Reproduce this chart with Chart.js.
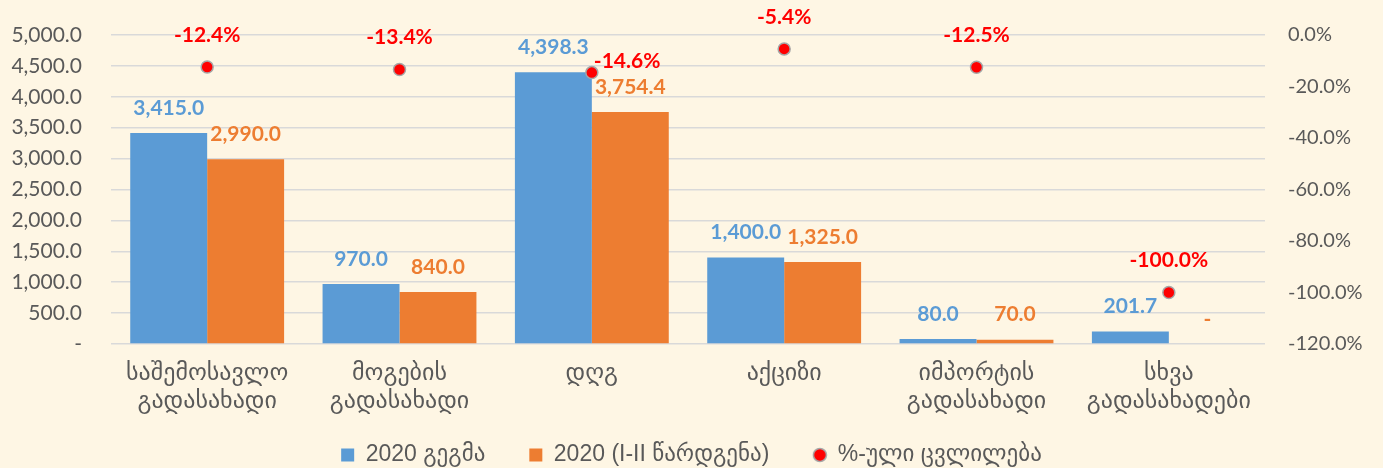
<!DOCTYPE html>
<html>
<head>
<meta charset="utf-8">
<script src="https://cdn.jsdelivr.net/npm/chart.js@4.4.1/dist/chart.umd.min.js"></script>
<style>
  html, body { margin: 0; padding: 0; background: #fef6e4; }
  #wrap { width: 1383px; height: 468px; }
</style>
</head>
<body>
<div id="wrap"><canvas id="chart" width="1383" height="468"></canvas></div>
<script>
const categories = [
  ["საშემოსავლო", "გადასახადი"],
  ["მოგების", "გადასახადი"],
  "დღგ",
  "აქციზი",
  ["იმპორტის", "გადასახადი"],
  ["სხვა", "გადასახადები"],
];
const plan2020 = [3415.0, 970.0, 4398.3, 1400.0, 80.0, 201.7];
const revised2020 = [2990.0, 840.0, 3754.4, 1325.0, 70.0, 0];
const pctChange = [-12.4, -13.4, -14.6, -5.4, -12.5, -100.0];
// where each % label sits relative to its dot
const pctLabelSide = ["top", "top", "right", "top", "top", "top"];

const FONT = "Lato, 'DejaVu Sans', sans-serif";
const GEO_FONT = "'DejaVu Sans', sans-serif";
const LEGEND_FONT = "'Liberation Sans', 'DejaVu Sans', sans-serif";
const GREY = "#595959";

function fmtNum(v) {
  if (v === 0) return "-";
  return v.toLocaleString("en-US", { minimumFractionDigits: 1, maximumFractionDigits: 1 });
}

// red dot used in the legend
const dot = document.createElement("canvas");
dot.width = dot.height = 16;
const dctx = dot.getContext("2d");
dctx.beginPath();
dctx.arc(8, 8, 6.5, 0, Math.PI * 2);
dctx.fillStyle = "#ff0000";
dctx.fill();
dctx.lineWidth = 1.5;
dctx.strokeStyle = "#a6a6a6";
dctx.stroke();

// draws the value labels over bars and points
const valueLabels = {
  id: "valueLabels",
  afterDatasetsDraw(chart) {
    const ctx = chart.ctx;
    ctx.save();
    ctx.font = "bold 21px " + FONT;
    ctx.textBaseline = "middle";
    chart.data.datasets.forEach((ds, di) => {
      const meta = chart.getDatasetMeta(di);
      meta.data.forEach((el, i) => {
        const v = ds.data[i];
        ctx.fillStyle = ds.labelColor;
        if (ds.type === "line") {
          const text = v.toFixed(1) + "%";
          if (pctLabelSide[i] === "right") {
            ctx.textAlign = "left";
            ctx.fillText(text, el.x + 2, el.y - 11);
          } else {
            ctx.textAlign = "center";
            ctx.fillText(text, el.x, el.y - 32);
          }
        } else {
          ctx.textAlign = "center";
          ctx.fillText(fmtNum(v), el.x, el.y - 25);
        }
      });
    });
    ctx.restore();
  }
};

// legend keeps its wide item gap but sits low, under the axis labels
const legendNudge = {
  id: "legendNudge",
  afterLayout(chart) {
    const lg = chart.legend;
    const lbl = lg.options.labels;
    lg.top = chart.height - 13 - lbl.padding - lbl.font.size / 2;
    lg.bottom = chart.height;
    lg.height = lg.bottom - lg.top;
  }
};

// fixed axis width, and no extra top/bottom room from the tick padding
function fixWidth(w) {
  return (scale) => {
    scale.width = w;
    scale.paddingTop = 0;
    scale.paddingBottom = 0;
  };
}

const ctx = document.getElementById("chart").getContext("2d");
new Chart(ctx, {
  type: "bar",
  data: {
    labels: categories,
    datasets: [
      {
        label: "2020 გეგმა",
        data: plan2020,
        backgroundColor: "#5b9bd5",
        labelColor: "#5b9bd5",
        borderWidth: 0,
        yAxisID: "y",
        order: 1,
      },
      {
        label: "2020 (I-II წარდგენა)",
        data: revised2020,
        backgroundColor: "#ed7d31",
        labelColor: "#ed7d31",
        borderWidth: 0,
        yAxisID: "y",
        order: 1,
      },
      {
        type: "line",
        label: "%-ული ცვლილება",
        data: pctChange,
        showLine: false,
        pointRadius: 6,
        pointHoverRadius: 6,
        pointBackgroundColor: "#ff0000",
        pointBorderColor: "#a6a6a6",
        pointBorderWidth: 1.5,
        labelColor: "#ff0000",
        yAxisID: "y1",
        order: 0,
      },
    ],
  },
  options: {
    responsive: false,
    animation: false,
    categoryPercentage: 0.8,
    barPercentage: 1.0,
    layout: { padding: { top: 35, left: 0, right: 0, bottom: 0 } },
    plugins: {
      tooltip: { enabled: false },
      legend: {
        position: "bottom",
        maxHeight: 48,
        labels: {
          usePointStyle: true,
          boxWidth: 13,
          boxHeight: 13,
          padding: 44,
          color: GREY,
          font: { family: LEGEND_FONT, size: 23 },
          sort: (a, b) => a.datasetIndex - b.datasetIndex,
          generateLabels(chart) {
            const items = Chart.defaults.plugins.legend.labels.generateLabels(chart);
            items.forEach((it) => {
              it.pointStyle = chart.data.datasets[it.datasetIndex].type === "line" ? dot : "rect";
            });
            return items;
          },
        },
      },
    },
    scales: {
      x: {
        grid: { display: false },
        border: { display: false },
        ticks: {
          color: GREY,
          padding: 7,
          font: { family: GEO_FONT, size: 24, lineHeight: 1.2 },
          maxRotation: 0,
          autoSkip: false,
        },
        afterFit(scale) { scale.height = 76; },
      },
      y: {
        position: "left",
        min: 0,
        max: 5000,
        grid: { color: "#d9d9d9", lineWidth: 1.5, drawTicks: false },
        border: { display: false },
        ticks: {
          stepSize: 500,
          padding: 29,
          color: GREY,
          font: { family: FONT, size: 21 },
          callback: (v) => fmtNum(v),
        },
        afterFit: fixWidth(111),
      },
      y1: {
        position: "right",
        min: -120,
        max: 0,
        grid: { drawOnChartArea: false, drawTicks: false },
        border: { display: false },
        ticks: {
          stepSize: 20,
          padding: 23,
          color: GREY,
          font: { family: FONT, size: 20 },
          callback: (v) => v.toFixed(1) + "%",
        },
        afterFit: fixWidth(118),
      },
    },
  },
  plugins: [valueLabels, legendNudge],
});
</script>
</body>
</html>
